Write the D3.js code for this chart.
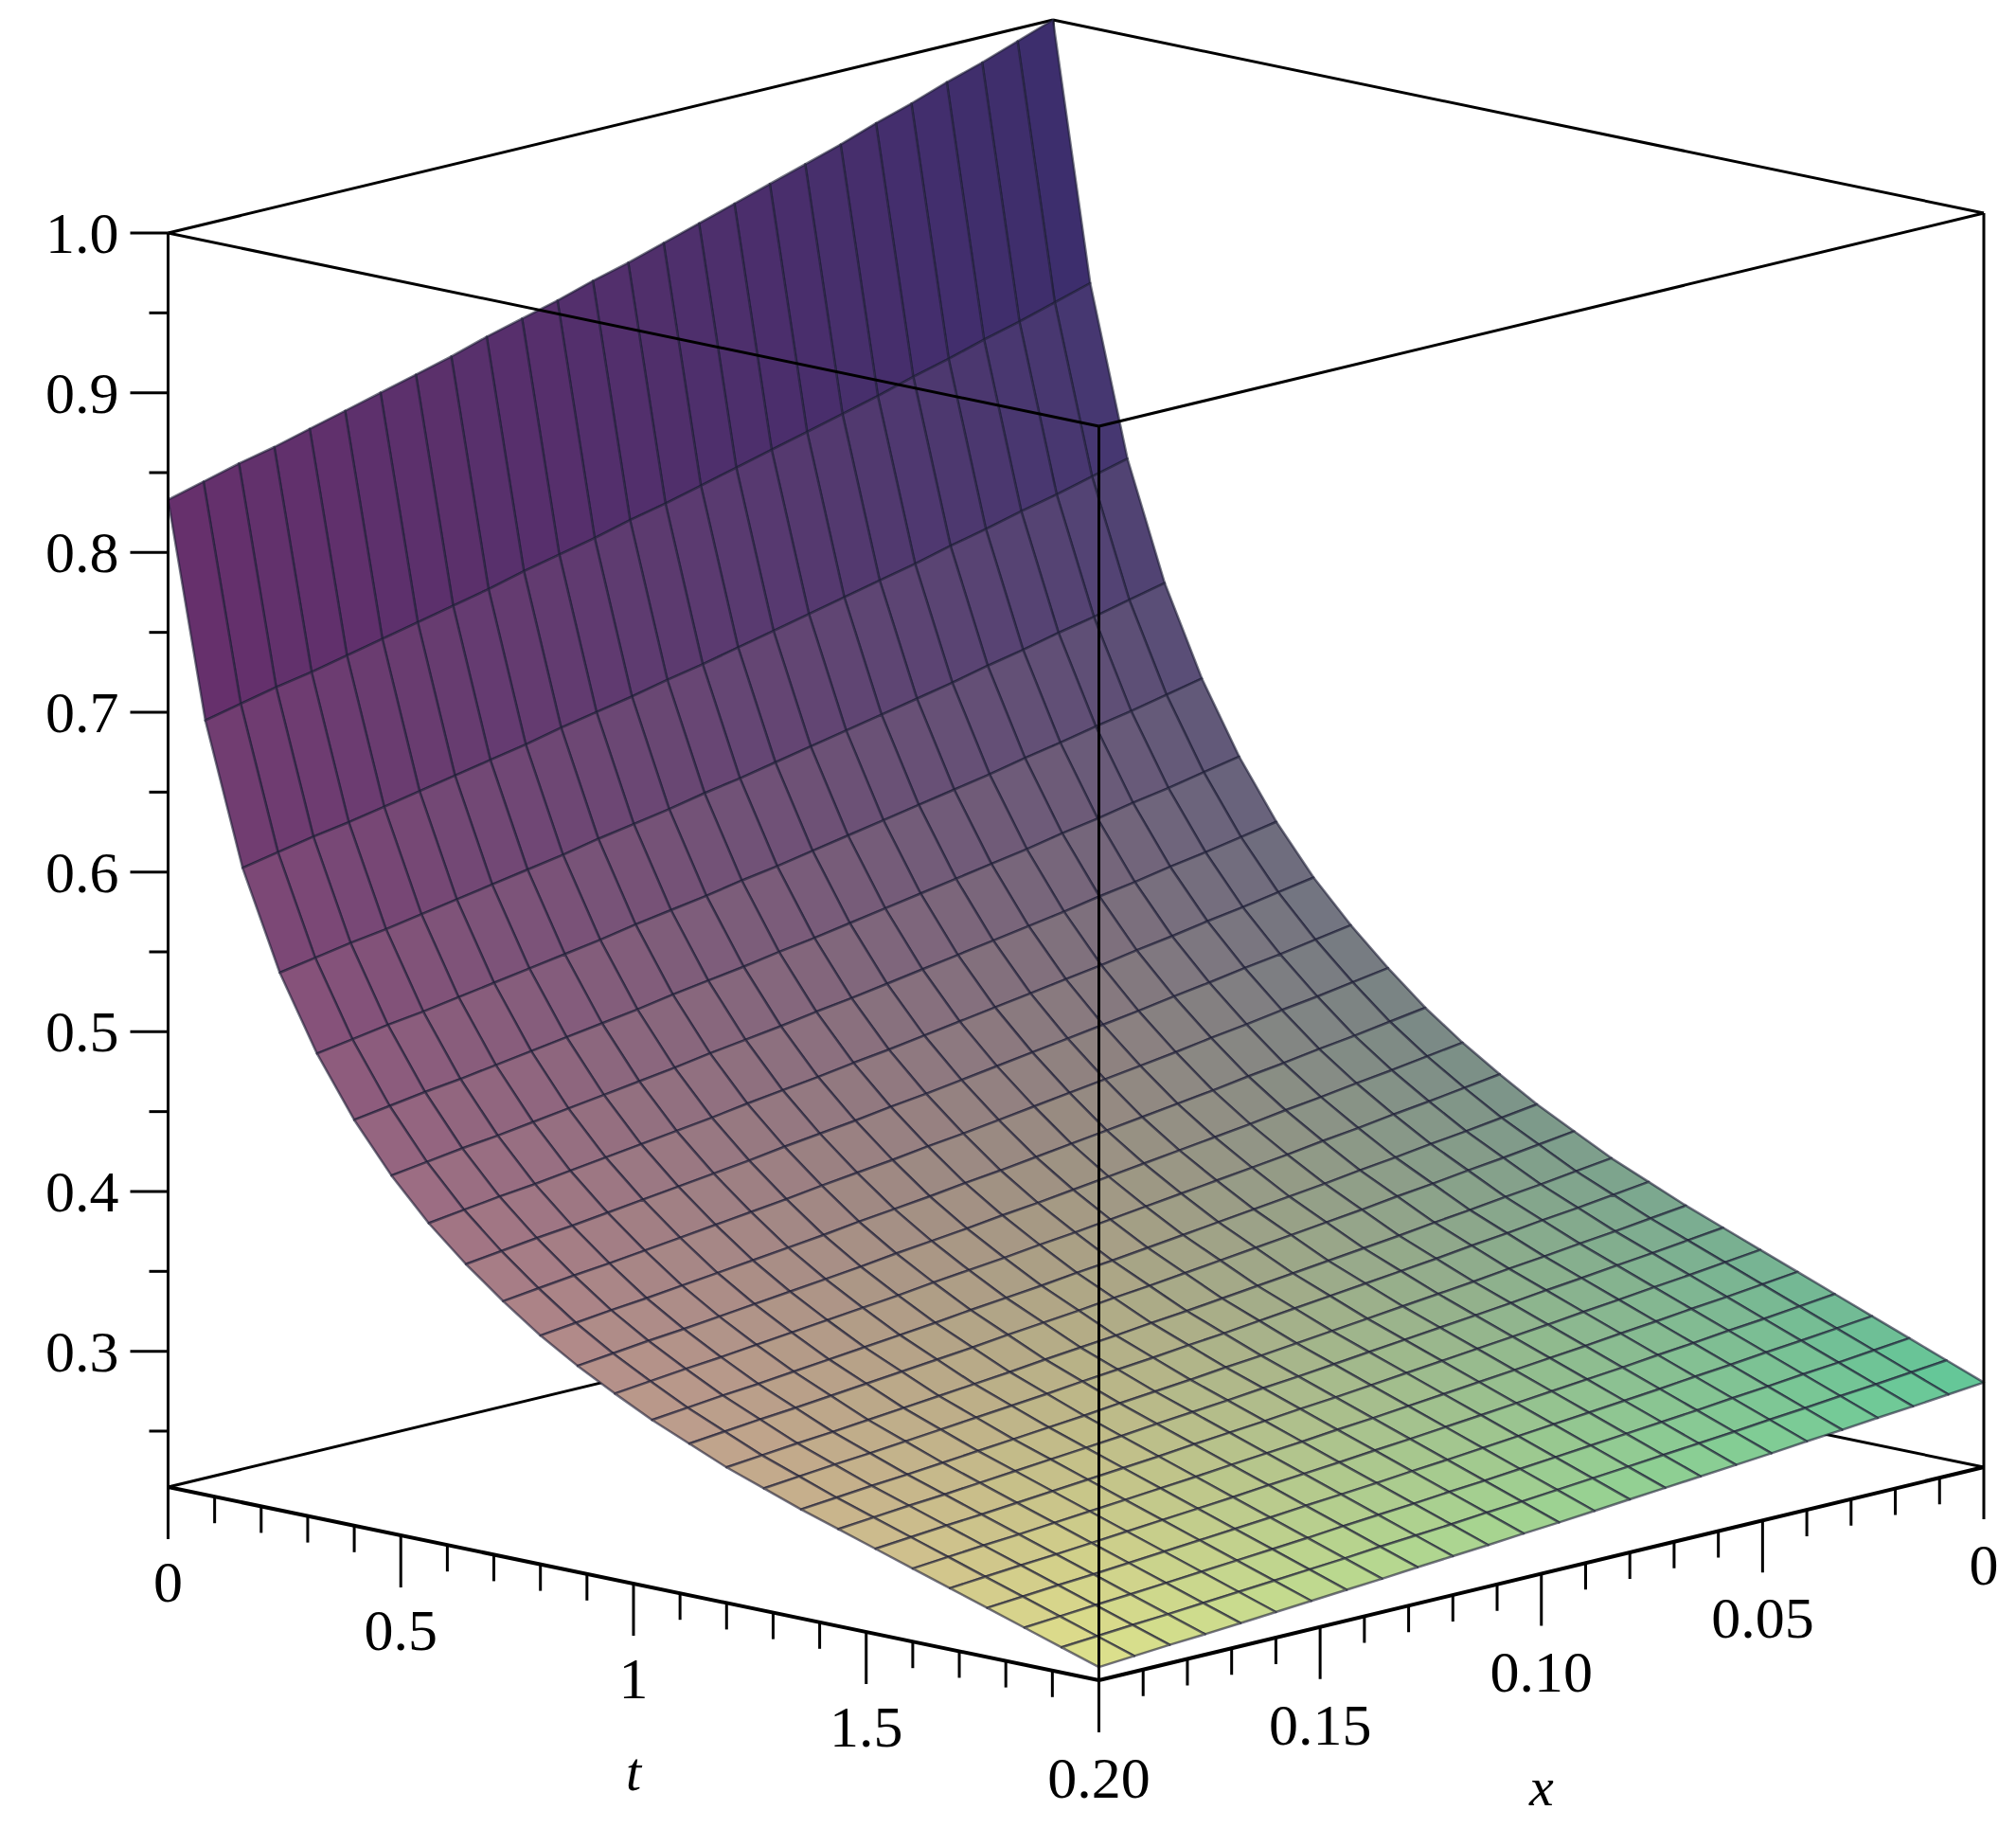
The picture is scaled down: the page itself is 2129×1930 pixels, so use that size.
<!DOCTYPE html>
<html><head><meta charset="utf-8">
<script src="https://cdn.jsdelivr.net/npm/d3@7"></script>
<style>body{margin:0;background:#fff}</style>
</head><body>
<svg id="c" width="2129" height="1930"></svg>
<script>
// t samples and surface value along x = 0
const tValues = [0,0.08,0.16,0.24,0.32,0.40,0.48,0.56,0.64,0.72,0.80,0.88,0.96,1.04,1.12,1.20,1.28,1.36,1.44,1.52,1.60,1.68,1.76,1.84,1.92,2.00];
const zAlongT = [1.0,0.84,0.735,0.662,0.607,0.563,0.527,0.497,0.472,0.450,0.430,0.413,0.398,0.384,0.372,0.360,0.350,0.340,0.331,0.322,0.313,0.304,0.295,0.286,0.277,0.268];
// x samples and relative factor (surface at t=0)
const xValues = [0,0.008,0.016,0.024,0.032,0.04,0.048,0.056,0.064,0.072,0.08,0.088,0.096,0.104,0.112,0.12,0.128,0.136,0.144,0.152,0.16,0.168,0.176,0.184,0.192,0.2];
const xFactor = [1,0.992,0.984,0.977,0.969,0.962,0.954,0.947,0.940,0.933,0.926,0.919,0.912,0.906,0.899,0.893,0.887,0.880,0.874,0.868,0.862,0.856,0.850,0.845,0.839,0.833];
const zTicks = [0.3,0.4,0.5,0.6,0.7,0.8,0.9,1.0];
const zTickLabels = ["0.3","0.4","0.5","0.6","0.7","0.8","0.9","1.0"];
const tTicks = [0,0.5,1,1.5];
const tTickLabels = ["0","0.5","1","1.5"];
const xTicks = [0,0.05,0.10,0.15,0.20];
const xTickLabels = ["0","0.05","0.10","0.15","0.20"];
const zMin = 0.215, zMax = 1.0;

const svg = d3.select("#c");
const B = [1112,1345];
const tVec = [983,204];
const xVec = [-934.5,225];
const tS = d3.scaleLinear().domain([0,2]).range([0,1]);
const xS = d3.scaleLinear().domain([0,0.2]).range([0,1]);
const zS = d3.scaleLinear().domain([zMin,zMax]).range([0,1324]);
function P(t,x,z){
  const a=tS(t), b=xS(x);
  return [B[0]+a*tVec[0]+b*xVec[0], B[1]+a*tVec[1]+b*xVec[1]-zS(z)];
}
const line = (p,q,w=3)=>svg.append("line").attr("x1",p[0]).attr("y1",p[1]).attr("x2",q[0]).attr("y2",q[1]).attr("stroke","#000").attr("stroke-width",w);

line(P(0,0,zMin),P(0,0.2,zMin));
line(P(0,0,zMin),P(2,0,zMin));
line(P(0,0,zMin),P(0,0,zMax));
line(P(0,0.2,zMax),P(0,0,zMax));
line(P(0,0,zMax),P(2,0,zMax));

const botC = d3.scaleLinear().domain([0,0.5,1]).range(["#e4a49e","#e4e68c","#60e09a"]).interpolate(d3.interpolateLab);
const topC = d3.scaleLinear().domain([0,0.45,0.75,1]).range(["#5e2868","#3e2c6c","#2e3674","#35458a"]).interpolate(d3.interpolateLab);
function colorAt(X,z){
  const u=Math.max(0,Math.min(1,(X-177)/(2095-177)));
  const zn=(z-zMin)/(zMax-zMin);
  const s=1-Math.pow(1-Math.min(1,zn),2.2);
  return d3.interpolateLab(botC(u),topC(u))(s);
}
const n=tValues.length-1, m=xValues.length-1;
const Z=(i,j)=>zAlongT[i]*xFactor[j];
const cells=[];
for(let i=0;i<n;i++)for(let j=0;j<m;j++)cells.push([i,j]);
cells.sort((a,b)=>(a[0]/n+a[1]/m)-(b[0]/n+b[1]/m));
const g=svg.append("g");
cells.forEach(([i,j])=>{
  const pts=[[i,j],[i+1,j],[i+1,j+1],[i,j+1]].map(([a,b])=>P(tValues[a],xValues[b],Z(a,b)));
  const cx=d3.mean(pts,p=>p[0]);
  const zc=(Z(i,j)+Z(i+1,j)+Z(i+1,j+1)+Z(i,j+1))/4;
  g.append("path").attr("d","M"+pts.map(p=>p.join(",")).join("L")+"Z")
   .attr("fill",colorAt(cx,zc)).attr("stroke","rgba(30,30,55,0.62)").attr("stroke-width",2.5).attr("stroke-linejoin","round");
});

line(P(0,0.2,zMin),P(0,0.2,zMax));
line(P(2,0.2,zMin),P(2,0.2,zMax));
line(P(2,0,zMin),P(2,0,zMax));
line(P(0,0.2,zMin),P(2,0.2,zMin),4);
line(P(2,0.2,zMin),P(2,0,zMin),4);
line(P(0,0.2,zMax),P(2,0.2,zMax));
line(P(2,0.2,zMax),P(2,0,zMax));

const font="'Liberation Serif','DejaVu Serif',serif";
for(let k=0;k<=16;k++){
  const z=0.25+k*0.05; if(z>1.0001||z<zMin) continue;
  const p=P(0,0.2,z); const major=Math.abs(z*10-Math.round(z*10))<1e-6;
  line([p[0]-(major?40:20),p[1]],p,3);
}
const lab=(x,y,s,size=62)=>svg.append("text").attr("x",x).attr("y",y).attr("text-anchor","middle").attr("dominant-baseline","central")
   .attr("font-family",font).attr("font-size",size).text(s);
zTicks.forEach((z,k)=>{const p=P(0,0.2,z);
  lab(p[0]-52,p[1],zTickLabels[k]).attr("text-anchor","end");});
for(let k=0;k<=20;k++){const t=k*0.1;const p=P(t,0.2,zMin);const major=k%5===0;
  line(p,[p[0],p[1]+(major?55:28)],3);}
tTicks.forEach((t,k)=>{const p=P(t,0.2,zMin); lab(p[0],p[1]+100,tTickLabels[k]);});
for(let k=0;k<=20;k++){const x=k*0.01;const p=P(2,x,zMin);const major=k%5===0;
  line(p,[p[0],p[1]+(major?55:28)],3);}
xTicks.forEach((x,k)=>{const p=P(2,x,zMin); lab(p[0],p[1]+103,xTickLabels[k]);});
const pt=P(1,0.2,zMin), px=P(2,0.1,zMin);
lab(pt[0],pt[1]+198,"t",58).attr("font-style","italic");
lab(px[0],px[1]+225,"x",58).attr("font-style","italic");
</script>
</body></html>
